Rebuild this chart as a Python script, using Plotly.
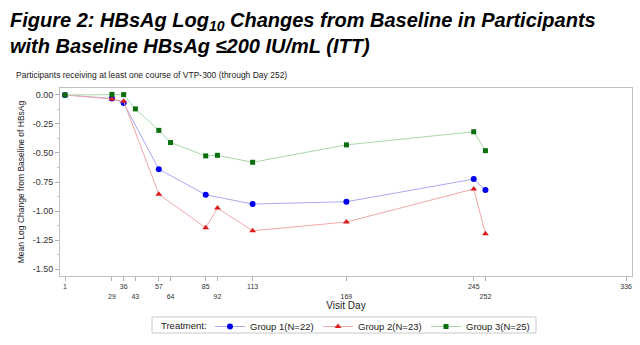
import plotly.graph_objects as go

group1_days = [1, 29, 36, 57, 85, 113, 169, 245, 252]
group1_vals = [0.00, -0.03, -0.07, -0.64, -0.86, -0.94, -0.92, -0.725, -0.82]
group2_days = [1, 29, 36, 57, 85, 92, 113, 169, 245, 252]
group2_vals = [0.00, -0.035, -0.055, -0.855, -1.145, -0.975, -1.17, -1.095, -0.81, -1.195]
group3_days = [1, 29, 36, 43, 57, 64, 85, 92, 113, 169, 245, 252]
group3_vals = [0.00, 0.005, 0.003, -0.12, -0.305, -0.41, -0.525, -0.52, -0.58, -0.43, -0.317, -0.48]

xtick_vals = [1, 29, 36, 43, 57, 64, 85, 92, 113, 169, 245, 252, 336]
xtick_lower = [29, 43, 64, 92, 169, 252]
ytick_vals = [0.0, -0.25, -0.5, -0.75, -1.0, -1.25, -1.5]
ytick_text = ["0.00", "-0.25", "-0.50", "-0.75", "-1.00", "-1.25", "-1.50"]

series = [
    ("Group 1(N=22)", group1_days, group1_vals, "circle", 6, "#0000ee", "#a8a8f0"),
    ("Group 2(N=23)", group2_days, group2_vals, "triangle-up", 6, "#d81b1b", "#f0a8a8"),
    ("Group 3(N=25)", group3_days, group3_vals, "square", 5, "#0a6e0a", "#a8d8a8"),
]

fig = go.Figure()
for name, x, y, sym, size, mcol, lcol in series:
    fig.add_trace(go.Scatter(
        x=x, y=y, name=name, mode="lines+markers",
        line=dict(color=lcol, width=1),
        marker=dict(symbol=sym, size=size, color=mcol, line=dict(width=0)),
    ))

xtick_text = [("<br>" + str(v)) if v in xtick_lower else str(v) for v in xtick_vals]

W, H = 640, 345
L, R, T, B = 60, 8, 88, 69
plot_w = W - L - R
plot_h = H - T - B


def px_x(px):
    return (px - L) / plot_w


def px_y(py):
    return (H - B - py) / plot_h


font_family = "Liberation Sans, Arial, sans-serif"
fig.update_layout(
    width=W, height=H,
    margin=dict(l=L, r=R, t=T, b=B, autoexpand=False),
    paper_bgcolor="white", plot_bgcolor="white",
    font=dict(family=font_family, color="#222222", size=9),
    xaxis=dict(
        range=[-2, 339.5], tickmode="array", tickvals=xtick_vals, ticktext=xtick_text,
        tickfont=dict(size=7, color="#333333"), tickangle=0,
        ticks="outside", ticklen=4, tickcolor="#b0b0b0",
        showgrid=False, zeroline=False,
        showline=True, linecolor="#c0c0c0", linewidth=1, mirror=True,
        title=dict(text="Visit Day", font=dict(size=10, color="#222222"), standoff=0),
    ),
    yaxis=dict(
        range=[-1.56, 0.06], tickmode="array", tickvals=ytick_vals, ticktext=ytick_text,
        tickfont=dict(size=9, color="#333333"),
        ticks="outside", ticklen=4, tickcolor="#b0b0b0",
        minor=dict(ticks="outside", ticklen=2, tickcolor="#c8c8c8", dtick=0.125),
        showgrid=False, zeroline=False,
        showline=True, linecolor="#c0c0c0", linewidth=1, mirror=True,
        title=dict(text="Mean Log Change from Baseline of HBsAg", font=dict(size=8.5, color="#222222"), standoff=6),
    ),
    legend=dict(
        orientation="h", x=px_x(210), xref="paper", xanchor="left",
        y=px_y(312), yref="paper", yanchor="top",
        font=dict(size=9.5, color="#222222"),
        borderwidth=0, bgcolor="rgba(0,0,0,0)",
        itemwidth=30, tracegroupgap=0,
        entrywidth=63, entrywidthmode="pixels",
    ),
    shapes=[dict(
        type="rect", xref="paper", yref="paper",
        x0=px_x(152), x1=px_x(536), y0=px_y(333), y1=px_y(317),
        line=dict(color="#c8c8c8", width=1), fillcolor="rgba(0,0,0,0)", layer="below",
    )],
    annotations=[
        dict(
            text="<b><i>Figure 2: HBsAg Log<sub>10</sub> Changes from Baseline in Participants<br>with Baseline HBsAg ≤200 IU/mL (ITT)</i></b>",
            x=px_x(8), y=px_y(7), xref="paper", yref="paper", showarrow=False,
            xanchor="left", yanchor="top", align="left",
            font=dict(family=font_family, size=20, color="black"),
        ),
        dict(
            text="Participants receiving at least one course of VTP-300 (through Day 252)",
            x=px_x(14), y=px_y(75), xref="paper", yref="paper", showarrow=False,
            xanchor="left", yanchor="middle", font=dict(size=8.5, color="#222222"),
        ),
        dict(
            text="Treatment:",
            x=px_x(159), y=px_y(325), xref="paper", yref="paper", showarrow=False,
            xanchor="left", yanchor="middle", font=dict(size=9.5, color="#222222"),
        ),
    ],
)

fig.write_html("out.html")
